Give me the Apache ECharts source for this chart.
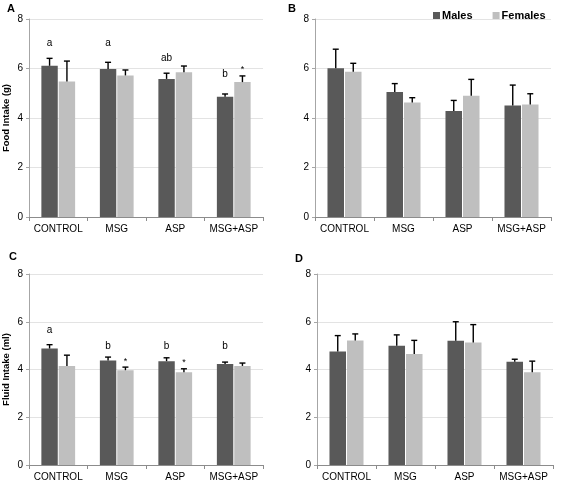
<!DOCTYPE html>
<html>
<head>
    <meta charset="utf-8">
    <script src="https://cdn.jsdelivr.net/npm/echarts@6/dist/echarts.min.js"></script>
    <style>
        html, body, #chart {
            width: 100%;
            height: 100%;
            margin: 0px;
            background: #fff;
        }
    </style>
</head>
<body>
<div id="chart"></div>
<script>
    var categories = ['CONTROL', 'MSG', 'ASP', 'MSG+ASP'];
    var yTicks = [0, 2, 4, 6, 8];

    // panel A: food intake, first period
    var foodMalesA = [6.11, 5.98, 5.58, 4.86];
    var foodMalesErrA = [0.30, 0.27, 0.23, 0.11];
    var foodFemalesA = [5.47, 5.72, 5.85, 5.45];
    var foodFemalesErrA = [0.83, 0.22, 0.25, 0.25];
    var lettersA = ['a', 'a', 'ab', 'b'];
    var letterLevelsA = [7.04, 7.04, 6.4, 5.78];
    var starsA = [false, false, false, true];

    // panel B
    var foodMalesB = [6.01, 5.05, 4.28, 4.51];
    var foodMalesErrB = [0.77, 0.34, 0.43, 0.82];
    var foodFemalesB = [5.87, 4.63, 4.90, 4.55];
    var foodFemalesErrB = [0.34, 0.19, 0.66, 0.43];

    // panel C: fluid intake
    var fluidMalesC = [4.88, 4.38, 4.35, 4.23];
    var fluidMalesErrC = [0.16, 0.14, 0.14, 0.08];
    var fluidFemalesC = [4.15, 3.97, 3.88, 4.15];
    var fluidFemalesErrC = [0.45, 0.13, 0.15, 0.12];
    var lettersC = ['a', 'b', 'b', 'b'];
    var letterLevelsC = [5.64, 4.97, 4.97, 4.97];
    var starsC = [false, true, true, false];

    // panel D
    var fluidMalesD = [4.75, 4.99, 5.20, 4.32];
    var fluidMalesErrD = [0.67, 0.46, 0.80, 0.11];
    var fluidFemalesD = [5.21, 4.65, 5.13, 3.89];
    var fluidFemalesErrD = [0.28, 0.57, 0.75, 0.46];

    var MALE = '#595959', FEMALE = '#bfbfbf';
    var BAR_FRAC = 0.28, GAP_FRAC = 0.06;
    var FONT = 'Liberation Sans, Arial, sans-serif';

    var panels = [
        { grid: { left: 29, right: 303, top: 19, bottom: 265 }, name: 'Food Intake (g)',
          m: foodMalesA, me: foodMalesErrA, f: foodFemalesA, fe: foodFemalesErrA,
          letters: lettersA, levels: letterLevelsA, stars: starsA },
        { grid: { left: 315, right: 15, top: 19, bottom: 265 }, name: '',
          m: foodMalesB, me: foodMalesErrB, f: foodFemalesB, fe: foodFemalesErrB },
        { grid: { left: 29, right: 303, top: 274, bottom: 15 }, name: 'Fluid Intake (ml)',
          m: fluidMalesC, me: fluidMalesErrC, f: fluidFemalesC, fe: fluidFemalesErrC,
          letters: lettersC, levels: letterLevelsC, stars: starsC },
        { grid: { left: 317, right: 13, top: 274, bottom: 16 }, name: '',
          m: fluidMalesD, me: fluidMalesErrD, f: fluidFemalesD, fe: fluidFemalesErrD }
    ];

    function errRender(side, p) {
        return function (params, api) {
            var idx = api.value(0);
            var cx0 = api.coord([idx, 0])[0];
            var band = api.size([1, 0])[0];
            var w = band * BAR_FRAC;
            var cx = cx0 + side * (w * (1 + GAP_FRAC)) / 2;
            var base = api.coord([idx, api.value(1)])[1];
            var top = api.coord([idx, api.value(1) + api.value(2)])[1];
            var st = { stroke: '#000', lineWidth: 1.4 };
            var kids = [
                { type: 'line', shape: { x1: cx, y1: base, x2: cx, y2: top }, style: st },
                { type: 'line', shape: { x1: cx - 3, y1: top, x2: cx + 3, y2: top }, style: st }
            ];
            if (side < 0 && p.letters) {
                var ly = api.coord([idx, p.levels[idx]])[1];
                kids.push({ type: 'text', x: cx, y: ly, style: {
                    text: p.letters[idx], fill: '#000', font: '10px ' + FONT,
                    align: 'center', verticalAlign: 'middle' } });
            }
            if (side > 0 && p.stars && p.stars[idx]) {
                kids.push({ type: 'text', x: cx, y: top - 6, style: {
                    text: '*', fill: '#000', font: '9px ' + FONT,
                    align: 'center', verticalAlign: 'middle' } });
            }
            return { type: 'group', children: kids };
        };
    }

    var grids = [], xAxes = [], yAxes = [], series = [];
    panels.forEach(function (p, i) {
        grids.push(p.grid);
        xAxes.push({
            type: 'category', gridIndex: i, data: categories,
            axisLine: { lineStyle: { color: '#8c8c8c', width: 1 } },
            axisTick: { show: true, length: 4, lineStyle: { color: '#8c8c8c' } },
            axisLabel: { color: '#000', fontSize: 10, fontFamily: FONT, margin: 7, interval: 0 }
        });
        yAxes.push({
            type: 'value', gridIndex: i, min: yTicks[0], max: yTicks[yTicks.length - 1], interval: 2,
            name: p.name, nameLocation: 'middle', nameGap: 18, nameRotate: 90,
            nameTextStyle: { color: '#000', fontSize: 9.5, fontWeight: 'bold', fontFamily: FONT },
            axisLine: { show: true, lineStyle: { color: '#a6a6a6', width: 1 } },
            axisTick: { show: true, length: 3, lineStyle: { color: '#a6a6a6' } },
            axisLabel: { color: '#000', fontSize: 10, fontFamily: FONT, margin: 6 },
            splitLine: { lineStyle: { color: '#e3e3e3', width: 1 } }
        });
        series.push({
            type: 'bar', name: 'Males', xAxisIndex: i, yAxisIndex: i, data: p.m,
            barWidth: (BAR_FRAC * 100) + '%', barGap: (GAP_FRAC * 100) + '%',
            itemStyle: { color: MALE }, silent: true, z: 2
        });
        series.push({
            type: 'bar', name: 'Females', xAxisIndex: i, yAxisIndex: i, data: p.f,
            barWidth: (BAR_FRAC * 100) + '%', barGap: (GAP_FRAC * 100) + '%',
            itemStyle: { color: FEMALE }, silent: true, z: 2
        });
        series.push({
            type: 'custom', xAxisIndex: i, yAxisIndex: i, z: 5, silent: true,
            renderItem: errRender(-1, p),
            data: p.m.map(function (v, k) { return [k, v, p.me[k]]; })
        });
        series.push({
            type: 'custom', xAxisIndex: i, yAxisIndex: i, z: 5, silent: true,
            renderItem: errRender(1, p),
            data: p.f.map(function (v, k) { return [k, v, p.fe[k]]; })
        });
    });

    var panelLetter = function (t, l, top) {
        return { text: t, left: l, top: top,
            textStyle: { fontSize: 11, fontWeight: 'bold', color: '#000', fontFamily: FONT } };
    };

    var myChart = echarts.init(document.getElementById('chart'), null, { renderer: 'canvas' });
    myChart.setOption({
        animation: false,
        title: [
            panelLetter('A', 2, -2),
            panelLetter('B', 283, -2),
            panelLetter('C', 4, 246),
            panelLetter('D', 290, 248)
        ],
        legend: {
            data: ['Males', 'Females'],
            left: 428, top: 5, icon: 'rect', itemWidth: 7, itemHeight: 7, itemGap: 20,
            textStyle: { fontSize: 11, fontWeight: 'bold', color: '#000', fontFamily: FONT, padding: [0, 0, 0, -3] }
        },
        grid: grids,
        xAxis: xAxes,
        yAxis: yAxes,
        series: series
    });
</script>
</body>
</html>
